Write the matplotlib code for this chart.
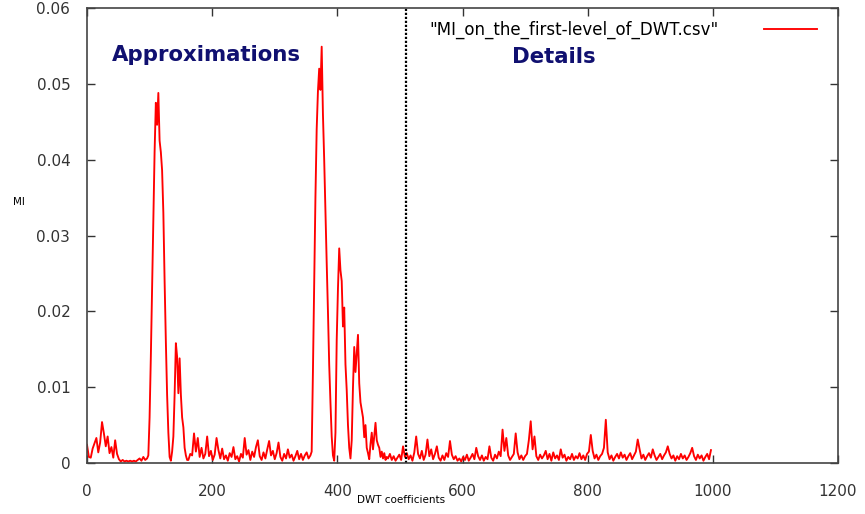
import numpy as np
import matplotlib.pyplot as plt

# MI values for the first-level DWT coefficients, read segment by segment
noise_a = [0.0024, 0.0008, 0.0007, 0.0019, 0.0026, 0.0033, 0.0014, 0.0027, 0.0054, 0.0039,
           0.0022, 0.0035, 0.0013, 0.0021, 0.0007, 0.0030, 0.0012, 0.0005, 0.0002, 0.0004,
           0.0002, 0.0003, 0.0002, 0.0003, 0.0002, 0.0003, 0.0002, 0.0004, 0.0006, 0.0003,
           0.0008, 0.0004, 0.0006]  # x = 0, 3, ..., 96

peaks_a = [0.0010, 0.0060, 0.0140, 0.0230, 0.0320, 0.0410, 0.0475, 0.0446, 0.0488, 0.0425,
           0.0410, 0.0386, 0.0330, 0.0240, 0.0160, 0.0090, 0.0040, 0.0008, 0.0003, 0.0015,
           0.0035, 0.0090, 0.0158, 0.0140, 0.0092, 0.0138, 0.0090, 0.0060, 0.0047, 0.0020,
           0.0010, 0.0004]  # x = 98, 100, ..., 160

noise_b = [0.0004, 0.0012, 0.0010, 0.0039, 0.0015, 0.0033, 0.0008, 0.0020, 0.0006, 0.0012,
           0.0035, 0.0009, 0.0016, 0.0004, 0.0011, 0.0033, 0.0017, 0.0006, 0.0019, 0.0005,
           0.0010, 0.0003, 0.0013, 0.0008, 0.0021, 0.0005, 0.0009, 0.0002, 0.0012, 0.0007,
           0.0033, 0.0011, 0.0017, 0.0004, 0.0015, 0.0008, 0.0021, 0.0030, 0.0009, 0.0004,
           0.0014, 0.0006, 0.0018, 0.0029, 0.0010, 0.0016, 0.0005, 0.0013, 0.0027, 0.0008,
           0.0003, 0.0012, 0.0006, 0.0018, 0.0007, 0.0011, 0.0003, 0.0009, 0.0016, 0.0005,
           0.0012, 0.0004, 0.0010, 0.0014, 0.0006, 0.0010]  # x = 162, 165, ..., 357

peaks_b = [0.0015, 0.0120, 0.0240, 0.0350, 0.0440, 0.0490, 0.0520, 0.0492, 0.0549, 0.0460,
           0.0400, 0.0330, 0.0264, 0.0200, 0.0130, 0.0080, 0.0035, 0.0010, 0.0003, 0.0040,
           0.0162, 0.0230, 0.0283, 0.0254, 0.0240, 0.0180, 0.0205, 0.0130, 0.0096, 0.0050,
           0.0020, 0.0006, 0.0030, 0.0100, 0.0153, 0.0120, 0.0145, 0.0169, 0.0105, 0.0080,
           0.0070, 0.0060, 0.0034, 0.0050, 0.0020, 0.0013, 0.0005, 0.0025, 0.0040, 0.0018,
           0.0035, 0.0053, 0.0030, 0.0024, 0.0020, 0.0008, 0.0015, 0.0006, 0.0013, 0.0004,
           0.0008]  # x = 359, 361, ..., 479

noise_c = [0.0006, 0.0012, 0.0004, 0.0009, 0.0003, 0.0007, 0.0011, 0.0004, 0.0022, 0.0008,
           0.0013, 0.0005, 0.0010, 0.0003, 0.0014, 0.0035, 0.0012, 0.0006, 0.0016, 0.0004,
           0.0011, 0.0031, 0.0009, 0.0018, 0.0005, 0.0012, 0.0022, 0.0007, 0.0003, 0.0010,
           0.0004, 0.0013, 0.0008, 0.0029, 0.0011, 0.0005, 0.0009, 0.0003, 0.0006, 0.0002,
           0.0008, 0.0004, 0.0011, 0.0003, 0.0007, 0.0012, 0.0005, 0.0020, 0.0009, 0.0004,
           0.0010, 0.0003, 0.0008, 0.0005, 0.0022, 0.0007, 0.0003, 0.0011, 0.0006, 0.0015,
           0.0009, 0.0044, 0.0016, 0.0033, 0.0010, 0.0004, 0.0008, 0.0012, 0.0039, 0.0014,
           0.0005, 0.0010, 0.0004, 0.0009, 0.0012, 0.0030, 0.0055, 0.0018, 0.0035, 0.0009,
           0.0004, 0.0011, 0.0006, 0.0010, 0.0016, 0.0005, 0.0012, 0.0003, 0.0014, 0.0006,
           0.0010, 0.0004, 0.0018, 0.0007, 0.0011, 0.0003, 0.0008, 0.0005, 0.0012, 0.0004,
           0.0009, 0.0006, 0.0013, 0.0005, 0.0010, 0.0004, 0.0012, 0.0015, 0.0037, 0.0016,
           0.0006, 0.0011, 0.0004, 0.0009, 0.0012, 0.0020, 0.0057, 0.0014, 0.0005, 0.0010,
           0.0003, 0.0008, 0.0012, 0.0006, 0.0014, 0.0007, 0.0011, 0.0004, 0.0009, 0.0013,
           0.0005, 0.0010, 0.0015, 0.0031, 0.0018, 0.0006, 0.0011, 0.0004, 0.0009, 0.0013,
           0.0007, 0.0018, 0.0010, 0.0004, 0.0008, 0.0012, 0.0005, 0.0010, 0.0014, 0.0022,
           0.0012, 0.0006, 0.0010, 0.0003, 0.0009, 0.0005, 0.0012, 0.0006, 0.0010, 0.0004,
           0.0008, 0.0013, 0.0020, 0.0009, 0.0004, 0.0011, 0.0006, 0.0010, 0.0003, 0.0008,
           0.0012, 0.0005, 0.0017]  # x = 481, 484, ..., 997

split_at = 510  # boundary between approximation and detail coefficients


def seg_x(start, step, vals):
    return np.arange(start, start + step * len(vals), step)


x = np.concatenate([seg_x(0, 3, noise_a), seg_x(98, 2, peaks_a), seg_x(162, 3, noise_b),
                    seg_x(359, 2, peaks_b), seg_x(481, 3, noise_c)])
y = np.concatenate([noise_a, peaks_a, noise_b, peaks_b, noise_c])

fig = plt.figure(figsize=(8.65, 5.14), dpi=100)
ax = fig.add_axes([87 / 865, 1 - 463 / 514, 751 / 865, 455 / 514])

ax.plot(x, y, color='#ff0000', lw=1.35, label='"MI_on_the_first-level_of_DWT.csv"')
ax.axvline(split_at, color='black', lw=1.6, ls=(0, (1, 0.8)))

ax.set_xlim(0, 1200)
ax.set_ylim(0, 0.06)
ax.set_xticks(np.arange(0, 1201, 200))
ax.set_yticks(np.arange(0, 0.061, 0.01))
ax.set_yticklabels(['0', '0.01', '0.02', '0.03', '0.04', '0.05', '0.06'])
ax.tick_params(direction='in', length=6, width=1, top=True, right=True,
               labelsize=11, colors='#333333')
ax.tick_params(axis='x', pad=15)
ax.tick_params(axis='y', pad=12)
for s in ax.spines.values():
    s.set_color('#444444')
    s.set_linewidth(1.2)

ax.set_xlabel('DWT coefficients', fontsize=7.5, labelpad=0)
ax.set_ylabel('MI', fontsize=7.5, rotation=0, labelpad=0, va='center')
ax.yaxis.set_label_coords(-0.09, 0.574)
ax.xaxis.set_label_coords(0.418, -0.07)

ax.text(0.033, 0.897, 'Approximations', transform=ax.transAxes, fontsize=15.3,
        fontweight='bold', color='#101070', va='center')
ax.text(0.566, 0.893, 'Details', transform=ax.transAxes, fontsize=15.3,
        fontweight='bold', color='#101070', va='center')

ax.legend(loc='upper right', bbox_to_anchor=(0.981, 0.987), frameon=False, fontsize=12,
          handlelength=3.2, markerfirst=False, handletextpad=2.7, borderaxespad=0)

fig.savefig('out.png', dpi=100)
